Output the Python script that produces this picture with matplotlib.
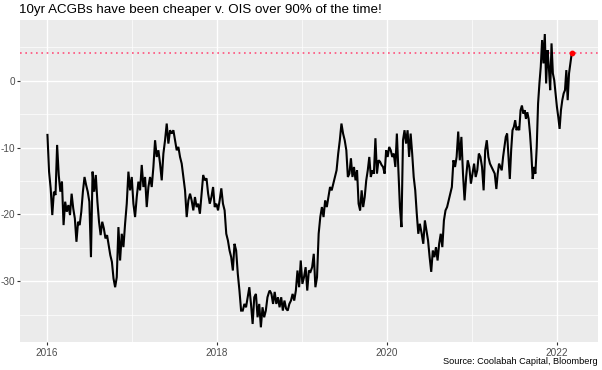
import numpy as np
import pandas as pd
import matplotlib
matplotlib.use("Agg")
import matplotlib.pyplot as plt
import matplotlib.dates as mdates

plt.rcParams['font.family'] = ['Liberation Sans', 'DejaVu Sans']
plt.rcParams['axes.unicode_minus'] = False

# spread (bp), in pieces; each piece spans the dates below
vals_a = [-8.1, -13.6, -16.1, -20.1, -16.6, -17.1, -9.6, -14.1, -16.6, -15.1,
          -21.6, -18.1, -19.6, -18.6, -20.1, -16.9, -19.1, -20.6, -24.1, -21.1,
          -21.6, -19.6, -16.6, -14.4, -15.6, -16.6, -18.1, -26.4, -13.6, -16.6,
          -14.1, -18.1, -21.1, -23.1, -21.1, -22.1, -23.6, -23.1, -24.6, -26.1,
          -27.1, -29.6, -30.9]
vals_b = [-29.4, -21.9, -26.9, -22.9, -24.9, -21.4, -18.4, -13.6, -16.4, -14.4,
          -18.4, -20.4, -17.4, -15.1, -16.4, -12.6, -15.9, -14.4, -18.9, -15.9,
          -14.4, -15.9, -12.9, -8.9, -11.4, -10.4, -12.4, -14.9, -10.9, -8.9,
          -6.4, -9.4, -7.4, -7.9, -7.4, -8.9, -10.4, -9.9, -11.4, -12.4,
          -14.4, -16.4, -20.4, -17.9, -16.9]
vals_c = [-17.9, -19.4, -17.4, -18.9, -18.4, -19.9, -16.9, -14.1, -14.9, -14.6,
          -16.9, -18.4, -17.4, -15.9, -18.9, -18.4, -19.4, -17.9, -16.1, -18.4,
          -19.4, -22.9, -23.9, -25.4, -26.4, -28.4, -24.4, -25.4, -28.9, -31.4,
          -34.4, -34.4, -33.4, -33.9, -32.4, -30.9, -33.4, -36.4, -32.4, -31.9,
          -35.4, -33.4, -36.9, -33.9, -35.4, -34.4, -32.4, -31.6]
vals_d = [-31.4, -31.9, -33.4, -31.6, -33.4, -32.4, -33.9, -32.4, -34.4, -32.9,
          -34.1, -34.4, -33.4, -32.9, -31.9, -32.9, -31.4, -28.4, -30.9, -26.9,
          -30.4, -29.4, -27.9, -31.4, -28.4, -28.6, -27.9, -25.9, -30.9, -29.4,
          -22.9, -20.4, -18.9, -20.4, -17.9, -18.9, -17.4, -15.9, -16.4, -15.4,
          -14.4, -13.4, -10.9, -8.9, -6.4, -7.9, -8.9]
vals_e = [-10.4, -14.4, -13.9, -11.6, -14.4, -12.9, -14.9, -13.4, -18.4, -19.4,
          -16.4, -18.9, -17.4, -14.9, -13.4, -11.4, -14.4, -13.4, -13.9, -8.6,
          -13.9, -11.9, -12.1, -12.6, -12.9, -13.9, -10.4, -11.4, -9.9, -10.4,
          -11.4, -10.9, -12.9, -7.9, -13.4, -18.9, -21.9, -8.9, -7.4, -9.4,
          -7.4, -11.4, -7.9, -10.9, -14.4, -16.4, -19.9, -22.9, -21.4]
vals_f = [-22.9, -24.4, -20.9, -22.4, -23.9, -26.4, -28.6, -25.4, -26.4, -24.9,
          -26.9, -24.4, -22.9, -24.9, -20.9, -19.4, -18.9, -17.9, -16.9, -15.9,
          -11.9, -12.9, -11.4, -7.6, -11.9, -8.4, -13.9, -17.9, -14.4, -11.9,
          -12.9, -15.4, -13.9, -12.4, -14.4, -13.4, -10.9, -11.4, -12.9, -16.4,
          -10.4, -8.9, -11.4, -12.4, -12.9, -13.4, -13.9]
vals_g = [-16.2, -13.9, -12.4, -12.9, -13.4, -11.4, -9.9, -8.4, -7.9, -11.4,
          -14.7, -10.4, -7.4, -6.9, -5.9, -7.4, -6.9, -7.4, -4.4, -3.7,
          -4.9, -4.4, -5.7, -4.7, -5.7, -7.9, -10.9, -14.7, -12.9, -13.9,
          -9.9, -3.4, -0.4, 2.1, 6.1, 2.6, 7.0, -0.4, 4.6, 2.1,
          -1.4, 5.6, 1.1, 0.1, -1.9, -3.9, -5.4, -7.2, -4.4, -2.9,
          -1.9, -1.4, 1.6, -2.9, 1.1, 2.6, 4.1]
seg_start = ["2016-01-04", "2016-10-28", "2017-09-15", "2018-08-17",
             "2019-07-12", "2020-05-31", "2021-04-17"]
seg_end = ["2016-10-21", "2017-09-08", "2018-08-14", "2019-07-05",
           "2020-05-23", "2021-04-10", "2022-03-07"]
segments = [vals_a, vals_b, vals_c, vals_d, vals_e, vals_f, vals_g]

dates = []
values = []
for s, e, v in zip(seg_start, seg_end, segments):
    dates.extend(pd.date_range(s, e, periods=len(v)))
    values.extend(v)
df = pd.DataFrame({"date": dates, "spread": values})
last = df.iloc[-1]

fig = plt.figure(figsize=(6.02, 3.70), dpi=100)
ax = fig.add_axes([20/602, 1-342/370, 578/602, 322/370])
ax.set_facecolor("#EBEBEB")

ax.plot(df["date"], df["spread"], color="black", lw=1.5, zorder=3,
        solid_joinstyle="miter")
ax.axhline(last["spread"], color="#FF4F7B", lw=1.2, ls=(0, (1, 2.2)), zorder=2)
ax.scatter([last["date"]], [last["spread"]], color="red", s=10, zorder=4)

ax.set_ylim(-39.1, 9.1)
ax.set_xlim(pd.Timestamp("2015-09-08"), pd.Timestamp("2022-06-28"))

ax.set_yticks([-30, -20, -10, 0])
ax.set_yticks([-35, -25, -15, -5, 5], minor=True)
ax.set_xticks([pd.Timestamp(f"{y}-01-01") for y in (2016, 2018, 2020, 2022)])
ax.set_xticks([pd.Timestamp(f"{y}-01-01") for y in (2017, 2019, 2021)], minor=True)
ax.xaxis.set_major_formatter(mdates.DateFormatter("%Y"))

ax.grid(which="major", color="white", lw=1.0)
ax.grid(which="minor", color="white", lw=0.5)
ax.set_axisbelow(True)
for sp in ax.spines.values():
    sp.set_visible(False)
ax.tick_params(which="major", length=2.5, width=0.8, color="#333333",
               labelsize=7.2, labelcolor="#4D4D4D", pad=1.5)
ax.tick_params(axis="y", which="major", pad=1.0)
ax.tick_params(which="minor", length=0)

fig.text(19/602, 1-10/370, "10yr ACGBs have been cheaper v. OIS over 90% of the time!",
         fontsize=9.6, va="center", ha="left", color="black")
fig.text(598/602, 1-362/370, "Source: Coolabah Capital, Bloomberg",
         fontsize=6.6, va="center", ha="right", color="black")

fig.savefig("out.png", dpi=100)
